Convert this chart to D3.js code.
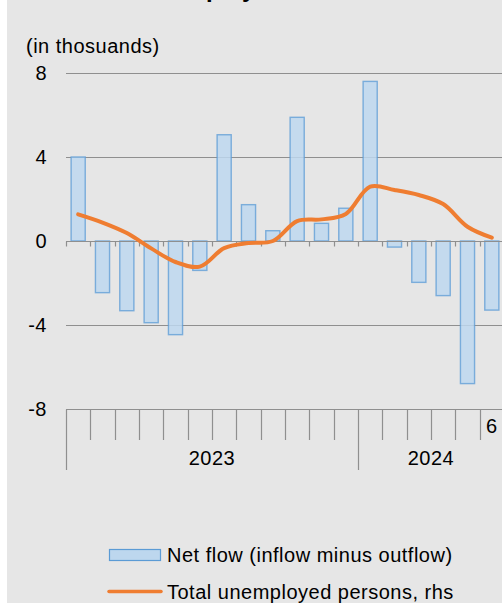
<!DOCTYPE html>
<html>
<head>
<meta charset="utf-8">
<script src="https://cdn.jsdelivr.net/npm/d3@7"></script>
<style>
  html, body { margin: 0; padding: 0; background: #ffffff; }
  svg { display: block; }
  text { font-family: "Liberation Sans", Arial, sans-serif; fill: #000; }
</style>
</head>
<body>
<svg id="chart" width="502" height="603"></svg>
<script>
// ---- data ----
const categories = ["2023-01","2023-02","2023-03","2023-04","2023-05","2023-06",
                    "2023-07","2023-08","2023-09","2023-10","2023-11","2023-12",
                    "2024-01","2024-02","2024-03","2024-04","2024-05","2024-06"];
const monthTickLabels = ["","","","","","","","","","","","","","","","","","6"];
const years = ["2023", "2024"];
const yearMonthCounts = [12, 6];
const netFlow = [4.0, -2.46, -3.32, -3.89, -4.46, -1.40, 5.06, 1.73, 0.49, 5.89, 0.84, 1.56,
                 7.6, -0.29, -1.97, -2.6, -6.79, -3.29];
const totalUnemployedRhs = [1.27, 0.88, 0.38, -0.35, -1.0, -1.22, -0.34, -0.1, 0.0, 0.95, 1.03, 1.29,
                            2.59, 2.43, 2.19, 1.76, 0.68, 0.16];
const yTicks = [8, 4, 0, -4, -8];
const chartTitle = "Total unemployment and net flows";
const yUnitLabel = "(in thosuands)";
const legendLabels = ["Net flow (inflow minus outflow)", "Total unemployed persons, rhs"];

(function () {
// ---- layout ----
const svg = d3.select("#chart");
const W = 502, H = 603;
const plotLeft = 66, plotRight = 504, plotTop = 73, plotBottom = 409;
const gridColor = "#8f8f8f";
const barFill = "#bdd7ee", barStroke = "#5b9bd5", lineColor = "#ef7d31";
const fontSize = 20, ls = "0.5px";

svg.append("rect").attr("x", 7).attr("y", 0).attr("width", W - 7).attr("height", H).attr("fill", "#e6e6e6");

const x = d3.scaleBand().domain(categories).range([plotLeft, plotRight]).paddingInner(0.42).paddingOuter(0.21);
const y = d3.scaleLinear().domain([-8, 8]).range([plotBottom, plotTop]);
const yRhs = d3.scaleLinear().domain([-8, 8]).range([plotBottom, plotTop]); // rhs axis falls outside the visible area
const step = x.step();

// title (cut off at the top, as in the reference: only descenders show)
const tt = svg.append("text").attr("font-size", 24).attr("font-weight", "bold").attr("y", -3.5).text(chartTitle);
const pre = svg.append("text").attr("font-size", 24).attr("font-weight", "bold").text("Total unem");
const preW = pre.node().getComputedTextLength();
pre.remove();
tt.attr("x", 206 - preW);

// unit label
svg.append("text").attr("x", 26).attr("y", 53).attr("font-size", fontSize).style("letter-spacing", ls).text(yUnitLabel);

// gridlines (8, 4, -4)
svg.append("g").selectAll("line").data(yTicks.filter(v => v !== 0 && v !== -8)).join("line")
  .attr("x1", plotLeft).attr("x2", W).attr("y1", d => Math.round(y(d)) + 0.5).attr("y2", d => Math.round(y(d)) + 0.5)
  .attr("stroke", gridColor).attr("stroke-width", 1);

// y tick labels
svg.append("g").selectAll("text").data(yTicks).join("text")
  .attr("x", 47).attr("y", d => y(d) + 7).attr("text-anchor", "end")
  .attr("font-size", fontSize).style("letter-spacing", ls).text(d => d);

// bars
svg.append("g").selectAll("rect").data(netFlow).join("rect")
  .attr("x", (d, i) => x(categories[i]))
  .attr("width", x.bandwidth())
  .attr("y", d => y(Math.max(0, d)))
  .attr("height", d => Math.abs(y(d) - y(0)))
  .attr("fill", barFill).attr("fill-opacity", 0.85)
  .attr("stroke", barStroke).attr("stroke-opacity", 0.75).attr("stroke-width", 1.4);

// zero line with small ticks at category boundaries
const boundaries = d3.range(categories.length + 1).map(i => plotLeft + i * step);
const y0 = Math.round(y(0)) + 0.5;
svg.append("line").attr("x1", plotLeft).attr("x2", W).attr("y1", y0).attr("y2", y0)
  .attr("stroke", gridColor).attr("stroke-width", 1.2);
svg.append("g").selectAll("line").data(boundaries).join("line")
  .attr("x1", d => Math.round(d) + 0.5).attr("x2", d => Math.round(d) + 0.5)
  .attr("y1", y0).attr("y2", y0 + 5).attr("stroke", gridColor).attr("stroke-width", 1.2);

// line (rhs)
const line = d3.line()
  .x((d, i) => x(categories[i]) + x.bandwidth() / 2)
  .y(d => yRhs(d))
  .curve(d3.curveCatmullRom.alpha(0.5));
svg.append("path").datum(totalUnemployedRhs).attr("d", line)
  .attr("fill", "none").attr("stroke", lineColor).attr("stroke-width", 4).attr("stroke-linecap", "round");

// category axis at the bottom
const yb = Math.round(y(-8)) + 0.5;
svg.append("line").attr("x1", plotLeft).attr("x2", W).attr("y1", yb).attr("y2", yb)
  .attr("stroke", gridColor).attr("stroke-width", 1.2);
const yearStartIdx = [0];
yearMonthCounts.forEach((n, i) => yearStartIdx.push(yearStartIdx[i] + n));
svg.append("g").selectAll("line").data(boundaries).join("line")
  .attr("x1", d => Math.round(d) + 0.5).attr("x2", d => Math.round(d) + 0.5)
  .attr("y1", yb).attr("y2", (d, i) => (i === 0 || yearStartIdx.slice(1, -1).includes(i)) ? 470 : 440)
  .attr("stroke", gridColor).attr("stroke-width", 1.2);

svg.append("g").selectAll("text").data(monthTickLabels).join("text")
  .attr("x", (d, i) => x(categories[i]) + x.bandwidth() / 2).attr("y", 433)
  .attr("text-anchor", "middle").attr("font-size", fontSize).style("letter-spacing", ls).text(d => d);

svg.append("g").selectAll("text").data(years).join("text")
  .attr("x", (d, i) => plotLeft + (yearStartIdx[i] + yearMonthCounts[i] / 2) * step)
  .attr("y", 465).attr("text-anchor", "middle").attr("font-size", fontSize).style("letter-spacing", ls).text(d => d);

// legend
svg.append("rect").attr("x", 109.5).attr("y", 549.5).attr("width", 51).attr("height", 11)
  .attr("fill", barFill).attr("stroke", barStroke).attr("stroke-width", 1.2);
svg.append("text").attr("x", 167).attr("y", 562).attr("font-size", fontSize).style("letter-spacing", ls).text(legendLabels[0]);
svg.append("line").attr("x1", 109).attr("x2", 161).attr("y1", 591.5).attr("y2", 591.5)
  .attr("stroke", lineColor).attr("stroke-width", 3.5).attr("stroke-linecap", "round");
svg.append("text").attr("x", 167).attr("y", 599).attr("font-size", fontSize).style("letter-spacing", ls).text(legendLabels[1]);
})();
</script>
</body>
</html>
